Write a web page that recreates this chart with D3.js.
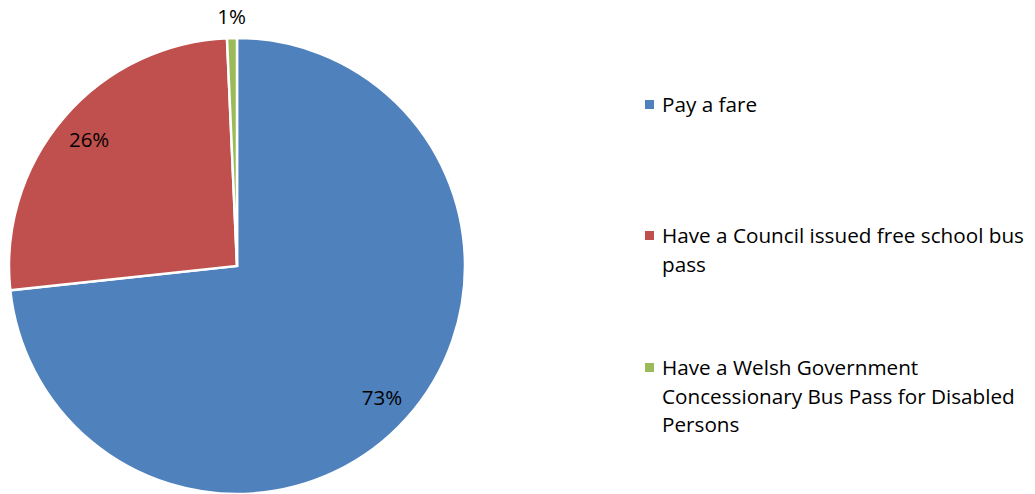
<!DOCTYPE html>
<html><head><meta charset="utf-8">
<script src="https://cdn.jsdelivr.net/npm/d3@7"></script>
<style>body{margin:0;background:#fff}svg{display:block}text{font-family:"Open Sans",sans-serif}</style>
</head><body>
<svg id="c" width="1035" height="494"></svg>
<script>
const categories = ["Pay a fare", "Have a Council issued free school bus pass", "Have a Welsh Government Concessionary Bus Pass for Disabled Persons"];
const values = [73.3, 26.0, 0.7];
const labels = ["73%", "26%", "1%"];
const legendLines = [["Pay a fare"], ["Have a Council issued free school bus", "pass"], ["Have a Welsh Government", "Concessionary Bus Pass for Disabled", "Persons"]];
const colors = ["#4F81BD", "#C0504D", "#9BBB59"];

const svg = d3.select("#c");
const cx = 237, cy = 266, R = 228;
const g = svg.append("g").attr("transform", `translate(${cx},${cy})`);
const pie = d3.pie().sort(null).value(d => d)(values);
const arc = d3.arc().innerRadius(0).outerRadius(R);
g.selectAll("path").data(pie).join("path")
  .attr("d", arc).attr("fill", (d, i) => colors[i])
  .attr("stroke", "#fff").attr("stroke-width", 2.5).attr("stroke-linejoin", "miter");

const inArc = d3.arc().innerRadius(195).outerRadius(195);
const outArc = d3.arc().innerRadius(250).outerRadius(250);
g.selectAll("text.lab").data(pie).join("text").attr("class", "lab")
  .attr("transform", (d, i) => `translate(${(i === 2 ? outArc : inArc).centroid(d)})`)
  .attr("text-anchor", "middle").attr("dy", "0.4em")
  .attr("font-size", 20.5).attr("fill", "#000")
  .text((d, i) => labels[i]);

const leg = svg.append("g");
const rowY = [112, 243, 375];
legendLines.forEach((lines, i) => {
  leg.append("rect").attr("x", 645).attr("y", rowY[i] - 12).attr("width", 9).attr("height", 9).attr("fill", colors[i]);
  const t = leg.append("text").attr("x", 662).attr("y", rowY[i]).attr("font-size", 20.7).attr("fill", "#000");
  lines.forEach((l, j) => t.append("tspan").attr("x", 662).attr("dy", j ? 28.7 : 0).text(l));
});
</script>
</body></html>
